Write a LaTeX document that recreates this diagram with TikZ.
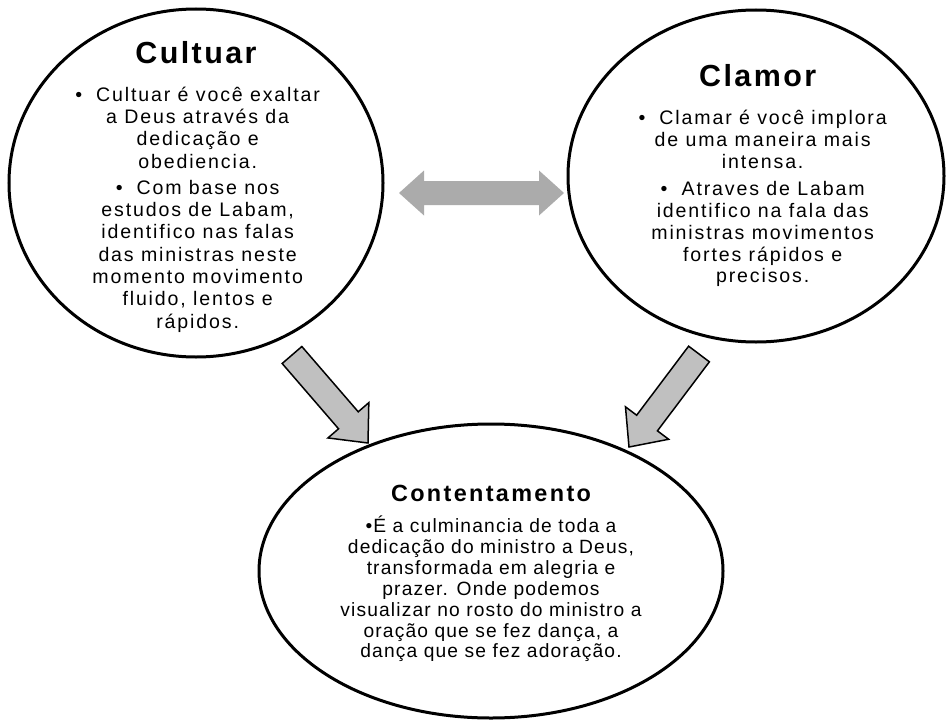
\documentclass[tikz,border=0pt]{standalone}
\usepackage{fontspec}
\setmainfont{Liberation Sans}[LetterSpace=9.5]
\usepackage{xcolor}
\definecolor{lineDark}{HTML}{000000}
\definecolor{arrowGray}{HTML}{C0C0C0}
\definecolor{linkGray}{HTML}{ABABAB}
\usepackage{tikz}
\usetikzlibrary{shapes.geometric,positioning,calc}
\tikzset{
  ideaEllipse/.style={
    ellipse,
    draw=lineDark,
    line width=0.9mm,
    fill=white,
    inner sep=0pt
 },
  headText/.style={
    inner sep=0pt,
    font=\bfseries\fontsize{26}{30}\selectfont\addfontfeature{LetterSpace=8}
 },
  bodyText/.style={
    inner sep=0pt,
    align=center,
    font=\fontsize{16.7}{19}\selectfont
 },
  flowArrow/.style={
    draw=lineDark,
    line width=0.45mm,
    fill=arrowGray,
    line join=miter
 },
  linkArrow/.style={
    fill=linkGray
 }
}
\newcommand{\bul}{•\hspace{12pt}}
% block arrow from tail #1 to tip #2
\newcommand{\flowArrowPath}[2]{%
  \coordinate (hb) at ($(#2)!9mm!(#1)$);
  \draw[flowArrow] ($(#1)!3.9mm!90:(#2)$) -- ($(hb)!3.9mm!90:(#2)$) -- ($(hb)!8.1mm!90:(#2)$)
    -- (#2) -- ($(hb)!8.1mm!-90:(#2)$) -- ($(hb)!3.9mm!-90:(#2)$) -- ($(#1)!3.9mm!-90:(#2)$) -- cycle;
}
% two-headed block arrow between tips #1 and #2
\newcommand{\linkArrowPath}[2]{%
  \coordinate (ha) at ($(#1)!7.5mm!(#2)$);
  \coordinate (hb) at ($(#2)!7.5mm!(#1)$);
  \fill[linkArrow] (#1) -- ($(ha)!6.75mm!90:(#2)$) -- ($(ha)!3.6mm!90:(#2)$) -- ($(hb)!3.6mm!-90:(#1)$)
    -- ($(hb)!6.75mm!-90:(#1)$) -- (#2) -- ($(hb)!6.75mm!90:(#1)$) -- ($(hb)!3.6mm!90:(#1)$)
    -- ($(ha)!3.6mm!-90:(#2)$) -- ($(ha)!6.75mm!-90:(#2)$) -- cycle;
}

\begin{document}
\begin{tikzpicture}[x=0.3mm, y=-0.3mm]
    \useasboundingbox (0,0) rectangle (946,722);

    % the three ideas
    \node[ideaEllipse, minimum width=112.2mm, minimum height=104.4mm] (cultuar) at (196,183) {};
    \node[ideaEllipse, minimum width=112.8mm, minimum height=99.6mm] (clamor) at (756,176) {};
    \node[ideaEllipse, minimum width=139.2mm, minimum height=88.2mm] (contentamento) at (491,571) {};

    % texts
    \node[headText, below=10.2mm of cultuar.north] (cultuarTitle) {Cultuar};
    \node[bodyText, below=6.7mm of cultuarTitle, xshift=0.5mm] (cultuarBody) {%
      \bul Cultuar é você exaltar\\ a Deus através da\\ dedicação e\\ obediencia.\\[3.5pt]
      \bul Com base nos\\ estudos de Labam,\\ identifico nas falas\\ das ministras neste\\
      momento movimento\\ fluido, lentos e\\ rápidos.};

    \node[headText, below=16.8mm of clamor.north, xshift=0.5mm] (clamorTitle) {Clamor};
    \node[bodyText, font=\fontsize{16.7}{18.7}\selectfont, below=6.7mm of clamorTitle, xshift=1.5mm] (clamorBody) {%
      \bul Clamar é você implora\\ de uma maneira mais\\ intensa.\\[4.5pt]
      \bul Atraves de Labam\\ identifico na fala das\\ ministras movimentos\\ fortes rápidos e\\ precisos.};

    \node[headText, font=\bfseries\fontsize{20}{24}\selectfont\addfontfeature{LetterSpace=10}, below=18.6mm of contentamento.north] (contentamentoTitle) {Contentamento};
    \node[bodyText, font=\fontsize{16.4}{17.8}\selectfont\addfontfeature{LetterSpace=6}, below=4.3mm of contentamentoTitle] (contentamentoBody) {%
      •É a culminancia de toda a\\ dedicação do ministro a Deus,\\ transformada em alegria e\\
      prazer. Onde podemos\\ visualizar no rosto do ministro a\\ oração que se fez dança, a\\
      dança que se fez adoração.};

    % arrows
    \coordinate (linkLeft) at (399,193);
    \coordinate (linkRight) at (564,193);
    \linkArrowPath{linkLeft}{linkRight}

    \coordinate (cultuarOut) at (292,355);
    \coordinate (cultuarIn) at (368,443);
    \coordinate (clamorOut) at (699,354);
    \coordinate (clamorIn) at (629,447);
    \flowArrowPath{cultuarOut}{cultuarIn}
    \flowArrowPath{clamorOut}{clamorIn}

\end{tikzpicture}
\end{document}
